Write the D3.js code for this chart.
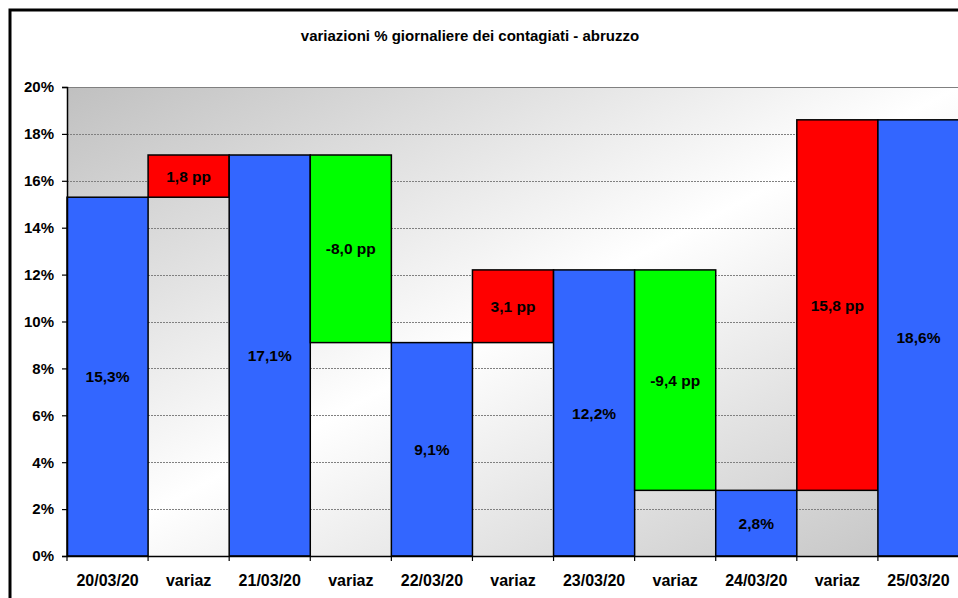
<!DOCTYPE html>
<html>
<head>
<meta charset="utf-8">
<script src="https://cdn.jsdelivr.net/npm/d3@7"></script>
<style>
  html, body { margin: 0; padding: 0; background: #fff; }
  svg { display: block; font-family: "Liberation Sans", Arial, sans-serif; }
</style>
</head>
<body>
<script>
// daily values and variations
const dates = ["20/03/20", "21/03/20", "22/03/20", "23/03/20", "24/03/20", "25/03/20"];
const values = [15.3, 17.1, 9.1, 12.2, 2.8, 18.6];
const changes = [1.8, -8.0, 3.1, -9.4, 15.8];
const changeLabel = "variaz";
const yTicks = [0, 2, 4, 6, 8, 10, 12, 14, 16, 18, 20];
const title = "variazioni % giornaliere dei contagiati - abruzzo";

const w = 958;
const h = 598;
const margin = {top: 87, right: -1, bottom: 42, left: 67};
const innerW = w - margin.left - margin.right;
const innerH = h - margin.top - margin.bottom;

const it = d3.formatLocale({decimal: ",", thousands: ".", grouping: [3], currency: ["", "€"], minus: "-"});
const f1 = it.format(".1f");

// build the waterfall steps
const steps = [];
dates.forEach((d, i) => {
  steps.push({label: d, lo: 0, hi: values[i], color: "#3366FF", text: f1(values[i]) + "%"});
  if (i < changes.length) {
    const a = values[i], b = values[i + 1];
    steps.push({
      label: changeLabel,
      lo: Math.min(a, b),
      hi: Math.max(a, b),
      color: changes[i] > 0 ? "#FF0000" : "#00FF00",
      text: f1(changes[i]) + " pp"
    });
  }
});

const svg = d3.select("body").append("svg")
  .attr("width", w)
  .attr("height", h)
  .attr("viewBox", [0, 0, w, h]);

// gradient for the plot area
const defs = svg.append("defs");
const grad = defs.append("linearGradient")
  .attr("id", "bg")
  .attr("x1", 0).attr("y1", 0).attr("x2", 1).attr("y2", 1);
grad.append("stop").attr("offset", "0%").attr("stop-color", "#c0c0c0");
grad.append("stop").attr("offset", "50%").attr("stop-color", "#ffffff");
grad.append("stop").attr("offset", "100%").attr("stop-color", "#c2c2c2");

// outer frame
svg.append("rect")
  .attr("x", 10).attr("y", 10)
  .attr("width", 1000).attr("height", 700)
  .attr("fill", "#fff")
  .attr("stroke", "#000")
  .attr("stroke-width", 3);

svg.append("text")
  .attr("x", 470)
  .attr("y", 41)
  .attr("text-anchor", "middle")
  .attr("font-size", 15)
  .attr("font-weight", "bold")
  .text(title);

const g = svg.append("g")
  .attr("transform", "translate(" + margin.left + "," + margin.top + ")");

const x = d3.scaleBand()
  .domain(d3.range(steps.length))
  .range([0, innerW])
  .padding(0);

const y = d3.scaleLinear()
  .domain([0, 20])
  .range([innerH, 0]);

g.append("rect")
  .attr("width", innerW)
  .attr("height", innerH)
  .attr("fill", "url(#bg)");

g.append("line")
  .attr("x1", 0).attr("x2", innerW)
  .attr("y1", 0.5).attr("y2", 0.5)
  .attr("stroke", "#808080")
  .attr("stroke-width", 1.2);

// gridlines
g.append("g")
  .selectAll("line")
  .data(yTicks.filter(t => t > 0 && t < 20))
  .join("line")
  .attr("x1", 0).attr("x2", innerW)
  .attr("y1", d => Math.round(y(d)) + 0.5)
  .attr("y2", d => Math.round(y(d)) + 0.5)
  .attr("stroke", "#808080")
  .attr("stroke-width", 1)
  .attr("stroke-dasharray", "2,1");

// bars
g.append("g")
  .selectAll("rect")
  .data(steps)
  .join("rect")
  .attr("x", (d, i) => x(i))
  .attr("y", d => y(d.hi))
  .attr("width", x.bandwidth())
  .attr("height", d => y(d.lo) - y(d.hi))
  .attr("fill", d => d.color)
  .attr("stroke", "#000")
  .attr("stroke-width", 1.5);

g.append("g")
  .selectAll("text")
  .data(steps)
  .join("text")
  .attr("x", (d, i) => x(i) + x.bandwidth() / 2)
  .attr("y", d => y((d.lo + d.hi) / 2))
  .attr("dy", "0.36em")
  .attr("text-anchor", "middle")
  .attr("font-size", 15.5)
  .attr("font-weight", "bold")
  .attr("fill", "#000")
  .text(d => d.text);

// y axis
const yAxisG = g.append("g")
  .call(d3.axisLeft(y).tickValues(yTicks).tickFormat(d => d + "%").tickSize(5).tickPadding(8));
yAxisG.select(".domain").attr("stroke", "#000").attr("stroke-width", 1.5);
yAxisG.selectAll(".tick line").attr("stroke", "#000").attr("stroke-width", 1.2);
yAxisG.selectAll(".tick text")
  .attr("font-size", 15)
  .attr("font-weight", "bold")
  .attr("font-family", "Liberation Sans, Arial, sans-serif")
  .attr("fill", "#000");

// x axis: labels in the middle, ticks at band edges
const xAxisG = g.append("g")
  .attr("transform", "translate(0," + innerH + ")")
  .call(d3.axisBottom(x).tickFormat(i => steps[i].label).tickSize(0).tickPadding(19));
xAxisG.select(".domain").attr("stroke", "#000").attr("stroke-width", 1.5);
xAxisG.selectAll(".tick text")
  .attr("font-size", 16)
  .attr("font-weight", "bold")
  .attr("font-family", "Liberation Sans, Arial, sans-serif")
  .attr("fill", "#000");

xAxisG.append("g")
  .selectAll("line")
  .data(d3.range(steps.length + 1))
  .join("line")
  .attr("x1", i => i < steps.length ? x(i) : innerW)
  .attr("x2", i => i < steps.length ? x(i) : innerW)
  .attr("y1", 0).attr("y2", 5)
  .attr("stroke", "#000")
  .attr("stroke-width", 1.2);
</script>
</body>
</html>
